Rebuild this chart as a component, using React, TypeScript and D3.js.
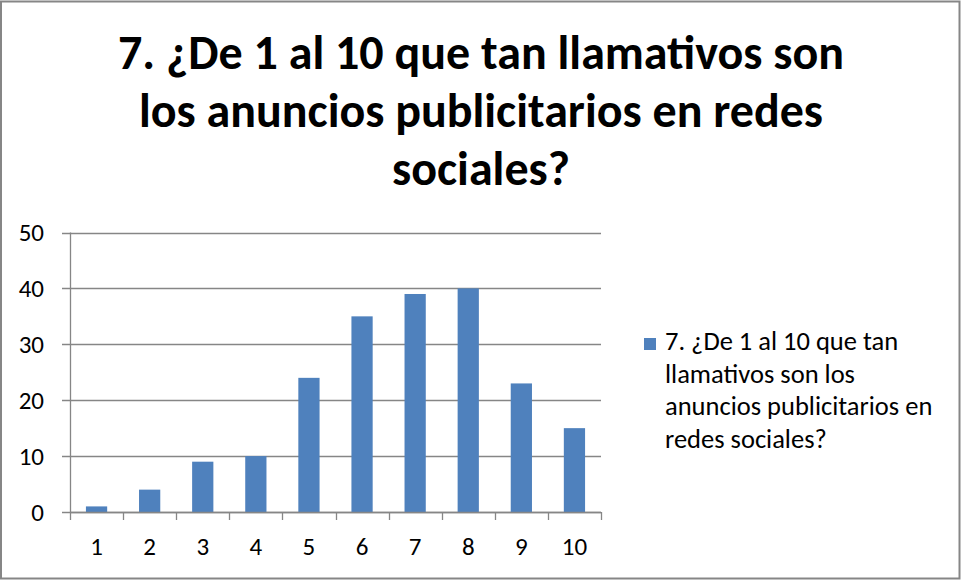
import React from "react";
import * as d3 from "d3";

const categories = ["1", "2", "3", "4", "5", "6", "7", "8", "9", "10"];
const values = [1, 4, 9, 10, 24, 35, 39, 40, 23, 15];
const yTicks = [0, 10, 20, 30, 40, 50];
const titleLines = [
  "7. ¿De 1 al 10 que tan llamativos son",
  "los anuncios publicitarios en redes",
  "sociales?",
];
const legendLines = [
  "7. ¿De 1 al 10 que tan",
  "llamativos son los",
  "anuncios publicitarios en",
  "redes sociales?",
];

const W = 961;
const H = 580;
const FONT = "Carlito, Calibri, Lato, 'Open Sans', sans-serif";

export default function App() {
  const left = 70;
  const right = 601;
  const top = 232.5;
  const bottom = 512;

  const x = d3.scaleBand<string>().domain(categories).range([left, right]).paddingInner(0.6).paddingOuter(0.3);
  const xCat = d3.scaleBand<string>().domain(categories).range([left, right]);
  const y = d3.scaleLinear().domain([0, 50]).range([bottom, top]);

  return (
    <svg width={W} height={H} style={{ position: "absolute", left: 0, top: 0 }}>
      <rect x={0} y={0} width={W} height={H} fill="#fff" />
      <rect x={1} y={1.5} width={W - 2.5} height={H - 3} fill="none" stroke="#868686" strokeWidth={2} />

      {titleLines.map((t, i) => (
        <text key={i} x={481} y={69 + i * 58} textAnchor="middle" fontFamily={FONT} fontWeight="bold" fontSize={48} fill="#000">
          {t}
        </text>
      ))}

      {yTicks.map((t) => (
        <g key={t}>
          <line x1={left - 8} x2={right} y1={Math.round(y(t)) + 0.5} y2={Math.round(y(t)) + 0.5} stroke="#868686" strokeWidth={1.3} />
          <text x={44} y={y(t)} dy="0.35em" textAnchor="end" fontFamily={FONT} fontSize={25} fill="#000">
            {t}
          </text>
        </g>
      ))}

      {values.map((v, i) => (
        <rect key={i} x={x(categories[i])} y={y(v)} width={x.bandwidth()} height={bottom - y(v)} fill="#4F81BD" />
      ))}

      <line x1={left + 0.5} x2={left + 0.5} y1={top} y2={bottom} stroke="#868686" strokeWidth={1.3} />
      <line x1={left} x2={right} y1={bottom + 0.5} y2={bottom + 0.5} stroke="#868686" strokeWidth={1.3} />
      {categories.concat(["end"]).map((c, i) => {
        const xx = i < categories.length ? (xCat(c) as number) : right;
        return <line key={i} x1={Math.round(xx) + 0.5} x2={Math.round(xx) + 0.5} y1={bottom} y2={bottom + 8} stroke="#868686" strokeWidth={1.3} />;
      })}
      {categories.map((c) => (
        <text key={c} x={(xCat(c) as number) + xCat.bandwidth() / 2} y={555} textAnchor="middle" fontFamily={FONT} fontSize={25} fill="#000">
          {c}
        </text>
      ))}

      <rect x={644} y={338} width={12} height={12} fill="#4F81BD" />
      {legendLines.map((t, i) => (
        <text key={i} x={665} y={350 + i * 32.7} fontFamily={FONT} fontSize={26.5} fill="#000">
          {t}
        </text>
      ))}
    </svg>
  );
}
